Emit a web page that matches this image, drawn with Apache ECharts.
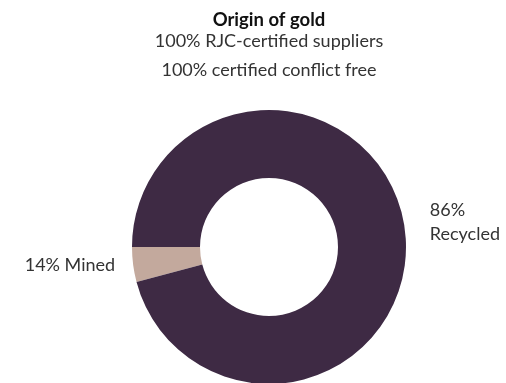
<!DOCTYPE html>
<html><head><meta charset="utf-8">
<script src="https://cdn.jsdelivr.net/npm/echarts@6/dist/echarts.min.js"></script>
<style>html,body{margin:0;padding:0;background:#fff}#c{width:506px;height:383px}</style>
</head><body><div id="c"></div>
<script>
// Data (slice sizes as drawn; label texts as printed)
const categories = ['Mined', 'Recycled'];
const sliceValues = [4.1, 95.9];
const labelTexts = ['14% Mined', '86%\nRecycled'];
const titleText = 'Origin of gold';
const subtitleLines = ['100% RJC-certified suppliers', '100% certified conflict free'];
const colors = ['#c3a99d', '#3e2a44'];

const font = 'Lato';
const chart = echarts.init(document.getElementById('c'), null, {renderer: 'canvas'});
chart.setOption({
  animation: false,
  title: {
    text: titleText,
    subtext: subtitleLines.join('\n'),
    left: 264,
    textAlign: 'center',
    top: 6,
    itemGap: -3,
    textStyle: {fontFamily: font, fontWeight: 'bold', fontSize: 18.5, color: '#111'},
    subtextStyle: {fontFamily: font, fontSize: 18, color: '#333', lineHeight: 29}
  },
  series: [{
    type: 'pie',
    center: [269, 247],
    radius: [69, 137],
    startAngle: 180,
    clockwise: false,
    data: categories.map((c, i) => ({
      name: c,
      value: sliceValues[i],
      itemStyle: {color: colors[i]},
      label: {formatter: labelTexts[i]},
      labelLine: i === 0 ? {length: 0, length2: 13} : {length: 12, length2: 8}
    })),
    label: {
      show: true,
      position: 'outside',
      fontFamily: font,
      fontSize: 18,
      color: '#333',
      lineHeight: 24,
      overflow: 'none'
    },
    labelLayout: function (p) {
      return p.dataIndex === 1 ? {dy: -6} : {dy: 1};
    },
    labelLine: {show: false},
    emphasis: {disabled: true}
  }]
});
</script></body></html>
